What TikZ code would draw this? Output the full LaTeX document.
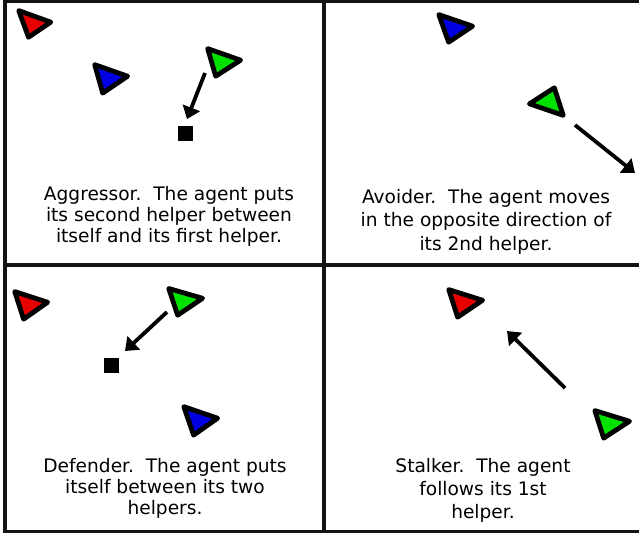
\documentclass[tikz,border=0pt]{standalone}
\usepackage{fontspec}
\setmainfont{DejaVu Sans}
\usetikzlibrary{calc,arrows.meta}

\definecolor{agentred}{RGB}{232,0,0}
\definecolor{agentblue}{RGB}{0,0,225}
\definecolor{agentgreen}{RGB}{0,225,0}

\tikzset{
  frame/.style={line width=3.6pt, draw=black!92},
  agent/.style={line width=4.8pt, draw=black, line join=round},
  move/.style={line width=3.8pt, -{Triangle[length=12pt,width=18pt]}},
  target/.style={fill=black, minimum size=15pt, inner sep=0pt, draw=none},
  caption/.style={anchor=north, align=center, inner sep=0pt,
                  font=\fontsize{18.6}{21}\selectfont},
}

% triangle agent: fill colour, then the three outer corners
\newcommand\agent[4]{%
  \coordinate (ctr) at ($0.3333*(#2)+0.3333*(#3)+0.3333*(#4)$);
  \filldraw[agent, fill=#1] ($(ctr)!0.89!(#2)$) -- ($(ctr)!0.89!(#3)$)
    -- ($(ctr)!0.89!(#4)$) -- cycle;}

\begin{document}
\begin{tikzpicture}[x=1pt, y=-1pt]
\useasboundingbox (0,0) rectangle (639,535);
\fill[white] (0,0) rectangle (639,535);

% panel borders
\draw[frame] (5,1) -- (639,1);
\draw[frame] (5,265) -- (639,265);
\draw[frame] (5,531.5) -- (639,531.5);
\draw[frame] (5,0) -- (5,533);
\draw[frame] (324,0) -- (324,533);

% ---- Aggressor ----
\agent{agentred}{17,9}{53,22}{28,39}
\agent{agentblue}{93,63}{130,76}{102,95}
\agent{agentgreen}{206,47}{243,60}{215,78}
\node[target] (aggT) at (185.5,133.5) {};
\coordinate (aggA) at (205,73);
\coordinate (aggB) at (187,119);
\draw[move] (aggA) -- (aggB);
\node[caption] (aggText) at (169,186)
  {Aggressor.\ \ The agent puts\\its second helper between\\itself and its first helper.};

% ---- Avoider ----
\agent{agentblue}{437,13}{475,26}{448,44}
\agent{agentgreen}{527,104}{555,86}{565,117}
\coordinate (avoA) at (575,125);
\coordinate (avoB) at (635,173);
\draw[move] (avoA) -- (avoB);
\node[caption, font=\fontsize{18.6}{23.5}\selectfont] (avoText) at (486,189)
  {Avoider.\ \ The agent moves\\in the opposite direction of\\its 2nd helper.};

% ---- Defender ----
\agent{agentred}{13,290}{50,302}{23,321}
\agent{agentgreen}{167,287}{205,298}{177,317}
\agent{agentblue}{182,405}{220,418}{193,437}
\node[target] (defT) at (111.5,365) {};
\coordinate (defA) at (167,312);
\coordinate (defB) at (125,351);
\draw[move] (defA) -- (defB);
\node[caption, font=\fontsize{18.6}{21}\selectfont] (defText) at (165,458)
  {Defender.\ \ The agent puts\\itself between its two\\helpers.};

% ---- Stalker ----
\agent{agentred}{447,288}{485,300}{457,319}
\agent{agentgreen}{593,409}{632,421}{603,440}
\coordinate (staA) at (565,388);
\coordinate (staB) at (507,331);
\draw[move] (staA) -- (staB);
\node[caption, font=\fontsize{18.6}{23}\selectfont] (staText) at (483,458)
  {Stalker.\ \ The agent\\follows its 1st\\helper.};
\end{tikzpicture}
\end{document}
